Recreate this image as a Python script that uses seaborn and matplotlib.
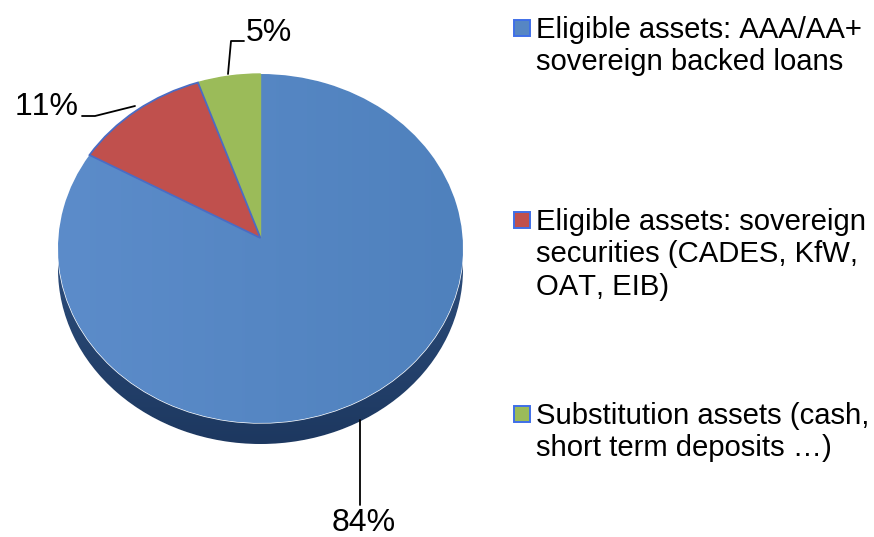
import numpy as np
import seaborn as sns
import matplotlib.pyplot as plt
from matplotlib.colors import LinearSegmentedColormap
from matplotlib.patches import Rectangle

# values
categories = ["Eligible assets: AAA/AA+\nsovereign backed loans",
              "Eligible assets: sovereign\nsecurities (CADES, KfW,\nOAT, EIB)",
              "Substitution assets (cash,\nshort term deposits …)"]
shares = [84, 11, 5]
slice_colors = ["#5686c4", "#c0504d", "#9bbb59"]

sns.set_theme(style="white")
plt.rcParams['font.family'] = ['Liberation Sans', 'DejaVu Sans']
plt.rcParams['text.kerning_factor'] = 6

W, H = 874, 537
fig = plt.figure(figsize=(W / 100, H / 100), dpi=100, facecolor="white")

# overlay in pixel coords for leaders and legend
ov = fig.add_axes([0, 0, 1, 1], zorder=3)
ov.set_xlim(0, W)
ov.set_ylim(H, 0)
ov.axis("off")


def pixel_axes(cx, cy, rx, ry, z):
    ax = fig.add_axes([(cx - rx) / W, 1 - (cy + ry) / H, 2 * rx / W, 2 * ry / H], zorder=z)
    return ax


def fix_axes(ax):
    ax.set_aspect("auto")
    ax.set_xlim(-1, 1)
    ax.set_ylim(-1, 1)
    ax.patch.set_alpha(0)


def shade(ax, patch, c1, c2, vertical=False):
    cmap = LinearSegmentedColormap.from_list("shade", [c1, c2])
    grad = np.linspace(0, 1, 256)
    grad = grad[:, None] if vertical else grad[None, :]
    im = ax.imshow(grad, extent=(-1, 1, -1, 1), cmap=cmap, origin="upper", zorder=2)
    im.set_clip_path(patch)


# side of the pie: same ellipse pushed down
side = pixel_axes(260.5, 269, 202.5, 175, 1)
side_w, _ = side.pie([sum(shares)], colors=["#21406b"], radius=1, startangle=90)
shade(side, side_w[0], "#3a5f92", "#1d3860", vertical=True)
fix_axes(side)

# top face
top = pixel_axes(260.5, 248.5, 202.5, 174.5, 2)
wedges, _ = top.pie(shares, colors=slice_colors, startangle=90, counterclock=False, radius=1)
wedges[2].set_zorder(3)
wedges[2].set_edgecolor(slice_colors[2])
wedges[2].set_linewidth(1.0)
wedges[1].set_zorder(4)
wedges[1].set_edgecolor("#4a6cc4")
wedges[1].set_linewidth(1.3)

# the tip of the slices sits above the ellipse centre (perspective)
apex = np.array([0.0, (248.5 - 238) / 174.5])
for w in wedges:
    p = w.get_path()
    near = np.hypot(p.vertices[:, 0], p.vertices[:, 1]) < 1e-6
    p.vertices[near] = apex

shade(top, wedges[0], "#5c8cca", "#4f81bd")
fix_axes(top)

# data labels with leader lines
ov.plot([360, 360], [420, 505], color="black", lw=1.3)
ov.plot([135, 95, 82], [106, 116, 116], color="black", lw=1.3)
ov.plot([228, 231, 244], [74, 41, 41], color="black", lw=1.3)
label_pos = [(363.5, 531), (47, 115), (269, 41)]
for v, (x, y) in zip(shares, label_pos):
    ov.text(x, y, f"{v}%", fontsize=23, color="black", ha="center", va="baseline")

# legend
legend_y = [28, 220, 414]
for name, col, y in zip(categories, slice_colors, legend_y):
    ov.add_patch(Rectangle((513.5, y - 8), 16, 16, facecolor=col, edgecolor="#3f6fe8", lw=1.4))
    ov.text(536, y - 12, name, fontsize=21.1, color="black", ha="left", va="top", linespacing=1.2)

plt.savefig("out.png", dpi=100)
